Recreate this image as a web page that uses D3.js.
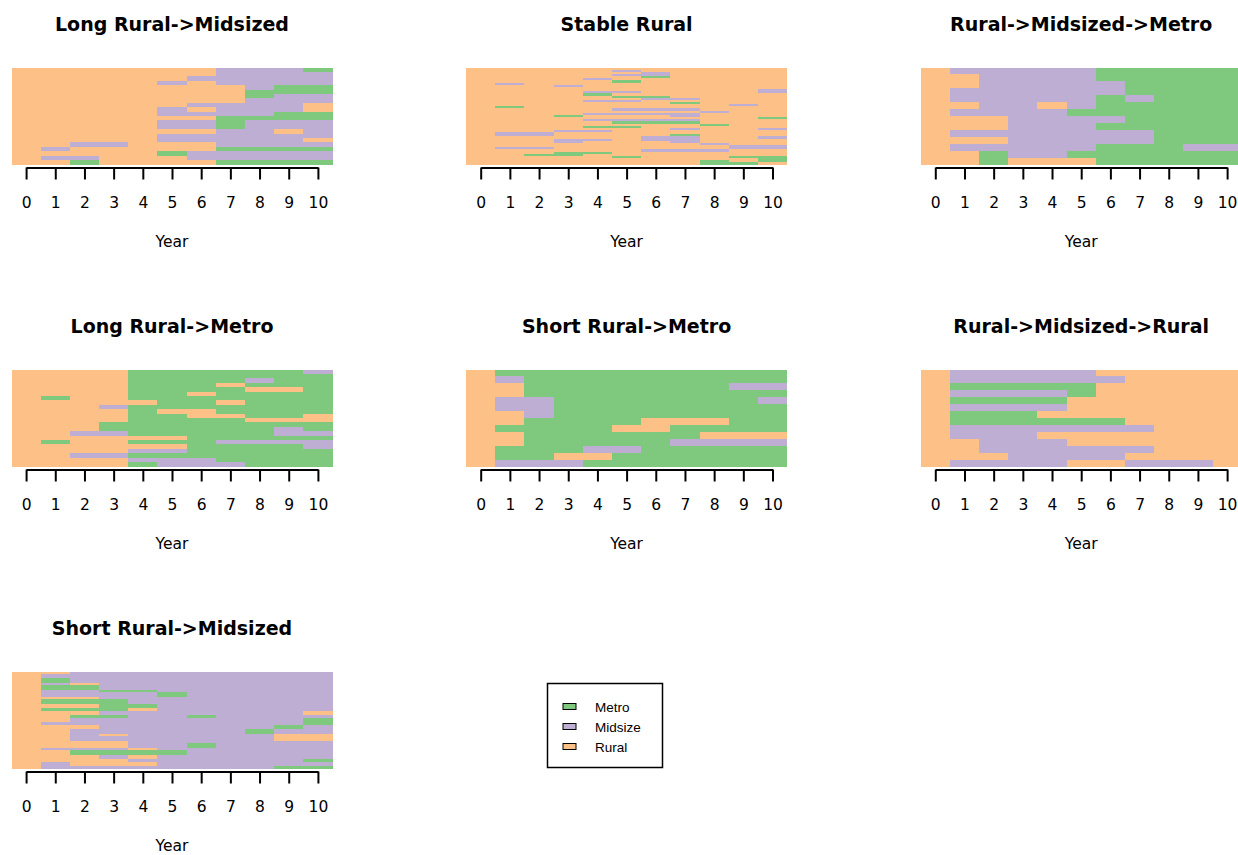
<!DOCTYPE html>
<html>
<head>
<meta charset="utf-8">
<script src="https://cdn.jsdelivr.net/npm/d3@7"></script>
<style>
body { margin: 0; background: #fff; }
</style>
</head>
<body>
<script>
// states: M = Metro, D = Midsize, R = Rural
const years = [0, 1, 2, 3, 4, 5, 6, 7, 8, 9, 10];
const stateCodes = ["M", "D", "R"];
const stateNames = ["Metro", "Midsize", "Rural"];
const stateColors = ["#7FC97F", "#BEAED4", "#FDC086"];
const titles = ["Long Rural->Midsized", "Stable Rural", "Rural->Midsized->Metro",
    "Long Rural->Metro", "Short Rural->Metro", "Rural->Midsized->Rural",
    "Short Rural->Midsized"];

// one string per sequence, one letter per year, top row first
const longRuralMidsized = [
    "RRRRRRRDDDM", "RRRRRRRDDDD", "RRRRRRDDDDD", "RRRRRDRDDDD", "RRRRRRRRDMM",
    "RRRRRRRRMMM", "RRRRRRRRMDD", "RRRRRRRRDDD", "RRRRRRDDDDR", "RRRRRDRDDDR",
    "RRRRRDDDDMM", "RRRRRRRMMMM", "RRRRRDDMDDD", "RRRRRDDMDDD", "RRRRRRRDDRD",
    "RRRRRDDDDDD", "RRRRRDDDDDR", "RRDDRRRDDDD", "RDRRRRRMMMM", "RRRRRMDDDDD",
    "RDDRRRDDDDD", "RRMRRRRMMMM"
];
const stableRural = [
    "RRRRRRRRRRR", "RRRRRDRRRRR", "RRRRRRDRRRR", "RRRRRDDRRRR", "RRRRRRMRRRR",
    "RRRRDRRRRRR", "RRRRRMRRRRR", "RDRRRRRRRRR", "RRRDRRRRRRR", "RRRRRRRRRRR",
    "RRRRRRRRRRD", "RRRRDDRRRRD", "RRRRMRRRRRR", "RRRRRMMRRRR", "RRRRRRDDRRR",
    "RRRRDDRRRRR", "RRRRRRRMRRR", "RRRRRRRRRDR", "RMRRRRRRRRR", "RRRRRDDDRRR",
    "RRRRRRRRDRR", "RRRRDDDDRRR", "RRRMRRRDRRR", "RRRRRRRRRRM", "RRRRDDDDRRR",
    "RRRRRMMMRRR", "RRRRRRRRMRR", "RRRRMMRRRRR", "RRRRRRRDRRD", "RRRDDRRRRRR",
    "RDDRRRRRRRR", "RDDRRRRMRRR", "RRRRRRDDRRD", "RRRDDRDDRRR", "RRRDRRRDRRR",
    "RRRRRRRRDRR", "RRRRRRRRRDD", "RDDRRRRRRDD", "RRRRRRDDDRR", "RRRMMRRRRRR",
    "RRMMRRRRRRR", "RRRRRMRRRMM", "RRRRRRRRRRM", "RRRRRRRRMRM", "RRRRRRRRMMR"
];
const ruralMidsizedMetro = [
    "RDDDDDMMMMM", "RRDDDDMMMMM", "RRDDDDDMMMM", "RDDDDDDMMMM", "RDDDDDMDMMM",
    "RRDDRDMMMMM", "RDDDDMMMMMM", "RRRDDDDMMMM", "RRRDDDMMMMM", "RDDDDDDDMMM",
    "RRRDDDDDMMM", "RDDDDDMMMDD", "RRMDDMMMMMM", "RRMRRRMMMMM"
];
const longRuralMetro = [
    "RRRRMMMMMMD", "RRRRMMMMMMM", "RRRRMMMMDMM", "RRRRMMMRMMM", "RRRRMMMMRRM",
    "RRRRMMRMMMM", "RMRRMMMMMMM", "RRRRRMMRMMM", "RRRDMMMMMMM", "RRRRMRRMMMM",
    "RRRRMMRRMMR", "RRRRMMMMRRR", "RRRMMMMMMMM", "RRRMMMMMMDM", "RRDDMMMMMDD",
    "RRRRRRMMMMM", "RMRRMMMDDDD", "RRRRRRMMMMD", "RRRRDDMMMMM", "RRDDMMMMMMM",
    "RRRRDDDMMMM", "RRRRMDDDMMM"
];
const shortRuralMetro = [
    "RMMMMMMMMMM", "RDMMMMMMMMM", "RRMMMMMMMDD", "RRMMMMMMMMM", "RDDMMMMMMMD",
    "RDDMMMMMMMM", "RRDMMMMMMMM", "RRMMMMRRRMM", "RMMMMRRMMMM", "RRMMMMMMRRR",
    "RRMMMMMDDDD", "RMMMDDMMMMM", "RMMRRMMMMMM", "RDDDMMMMMMM"
];
const ruralMidsizedRural = [
    "RDDDDDRRRRR", "RDDDDDDRRRR", "RMMMMMRRRRR", "RDDDDMRRRRR", "RMMMMRRRRRR",
    "RDDDDRRRRRR", "RMMMRRRRRRR", "RMMMMMMRRRR", "RDDDDDDDRRR", "RDDDRRRRRRR",
    "RRDDDRRRRRR", "RRDDDDDDRRR", "RRRDDDDRRRR", "RDDDDRRDDDR"
];
const shortRuralMidsized = [
    "RRDDDDDDDDD", "RDDDDDDDDDD", "RDDDDDDDDDD", "RMDDDDDDDDD", "RMDDDDDDDDD",
    "RDRDDDDDDDD", "RMMDDDDDDDD", "RMMDDDDDDDD", "RDDMMDDDDDD", "RDDDDMDDDDD",
    "RDDDDMDDDDD", "RRRDDDDDDDD", "RMMMDDDDDDD", "RMMMDDDDDDD", "RRRMMDDDDDD",
    "RRRMMDDDDDD", "RMMMRDDDDDD", "RRRDDDDDDDR", "RRRDDDDDDDR", "RRMMDDMDDDD",
    "RRDDDDDDDDM", "RRDDDDDDDDM", "RDDDDDDDDDM", "RRRDDDDDDMD", "RRRDDDDDDMD",
    "RRDDDDDDMDD", "RRDDDDDDMDD", "RRDRDDDDDRR", "RRDDDDDDDRR", "RRDDDDDDDRR",
    "RRRRDDDDDDD", "RRRRDDMDDDD", "RRRRDDMDDDD", "RDDDRDDDDDD", "RRMMMMDDDDD",
    "RRMMMMDDDDD", "RRRDRDDDDDD", "RRRDRDDDDDD", "RRRRDDDDDDM", "RDRRRDDDDDD",
    "RDRRRDDDDDD", "RDDDDDDDDMM"
];

const allSeqs = [longRuralMidsized, stableRural, ruralMidsizedMetro, longRuralMetro,
    shortRuralMetro, ruralMidsizedRural, shortRuralMidsized];

const W = 1238, H = 855;
const colStep = 454.6, rowStep = 302;
const left0 = 11.5, top0 = 67.5;
const plotW = 321, plotH = 97;
const font = "DejaVu Sans, Verdana, sans-serif";

const color = d3.scaleOrdinal().domain(stateCodes).range(stateColors);

const svg = d3.select("body").append("svg")
    .attr("width", W)
    .attr("height", H)
    .style("display", "block");

allSeqs.forEach((seqs, i) => {
    const L = left0 + (i % 3) * colStep;
    const T = top0 + Math.floor(i / 3) * rowStep;
    const x = d3.scaleBand().domain(years).range([L, L + plotW]);
    const y = d3.scaleBand().domain(d3.range(seqs.length)).range([T, T + plotH]);
    const g = svg.append("g");

    g.selectAll("g.seq")
        .data(seqs)
        .join("g")
        .attr("class", "seq")
        .each(function (s, r) {
            d3.select(this).selectAll("rect")
                .data(s.split(""))
                .join("rect")
                .attr("x", (d, j) => x(years[j]))
                .attr("y", y(r))
                .attr("width", x.bandwidth())
                .attr("height", y.bandwidth())
                .attr("fill", d => color(d))
                .attr("shape-rendering", "crispEdges");
        });

    // R-style axis: line from first to last tick
    const half = x.bandwidth() / 2;
    const xa = d3.scaleLinear().domain([0, 10])
        .range([x(0) + half, x(10) + half]);
    const ax = g.append("g")
        .attr("transform", `translate(0,${T + plotH + 3})`)
        .call(d3.axisBottom(xa).tickValues(years).tickFormat(d3.format("d"))
            .tickSize(12).tickSizeOuter(0).tickPadding(17));
    ax.select(".domain").attr("stroke", "#000").attr("stroke-width", 2);
    ax.selectAll(".tick line").attr("stroke", "#000").attr("stroke-width", 2);
    ax.selectAll(".tick text")
        .attr("fill", "#000")
        .style("font-family", font)
        .style("font-size", "15.5px");

    g.append("text")
        .attr("x", L + plotW / 2)
        .attr("y", T - 37)
        .attr("text-anchor", "middle")
        .style("font-family", font)
        .style("font-weight", "bold")
        .style("font-size", "19px")
        .text(titles[i]);

    g.append("text")
        .attr("x", L + plotW / 2)
        .attr("y", T + 179)
        .attr("text-anchor", "middle")
        .style("font-family", font)
        .style("font-size", "15.5px")
        .text("Year");
});

// legend
const lg = svg.append("g");
lg.append("rect")
    .attr("x", 547.5).attr("y", 683.5)
    .attr("width", 115).attr("height", 84)
    .attr("fill", "#fff")
    .attr("stroke", "#000")
    .attr("stroke-width", 1.5);
const items = lg.selectAll("g.item")
    .data(stateNames)
    .join("g")
    .attr("class", "item")
    .attr("transform", (d, k) => `translate(0,${711.5 + k * 20})`);
items.append("rect")
    .attr("x", 563).attr("y", -8)
    .attr("width", 13).attr("height", 6)
    .attr("fill", (d, k) => stateColors[k])
    .attr("stroke", "#000")
    .attr("stroke-width", 1);
items.append("text")
    .attr("x", 595)
    .attr("y", 0)
    .style("font-family", "Liberation Sans, Arial, sans-serif")
    .style("font-size", "13.5px")
    .text(d => d);
</script>
</body>
</html>
